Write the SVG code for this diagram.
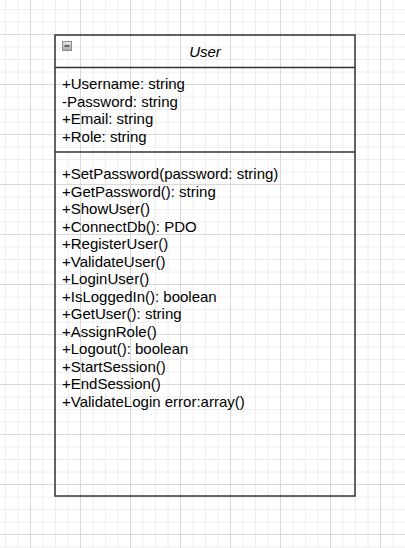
<svg xmlns="http://www.w3.org/2000/svg" width="405" height="548" viewBox="0 0 405 548">
  <style>
    .frame { fill: none; stroke: #333333; stroke-width: 1.5; }
    .divider { stroke: #333333; stroke-width: 1.5; }
    .member { font-family: "Liberation Sans", Arial, sans-serif; font-size: 15px; fill: #000000; }
    .title { font-family: "Liberation Sans", Arial, sans-serif; font-size: 15px; font-style: italic; fill: #000000; }
  </style>
  <defs>
    <!-- 12.5px minor grid with a stronger line every 50px -->
    <pattern id="grid" x="30" y="34" width="50" height="50" patternUnits="userSpaceOnUse">
      <path d="M13 0V50M25.5 0V50M38 0V50M0 13H50M0 25.5H50M0 38H50" stroke="#eeeeee" stroke-width="1" fill="none"/>
      <path d="M0.5 0V50M0 0.5H50" stroke="#d9d9d9" stroke-width="1" fill="none"/>
    </pattern>
    <linearGradient id="btnFill" x1="0" y1="0" x2="0" y2="1">
      <stop offset="0" stop-color="#e6e6e6"/>
      <stop offset="1" stop-color="#a8a8a8"/>
    </linearGradient>
  </defs>

  <rect width="405" height="548" fill="#ffffff"/>
  <rect width="405" height="548" fill="url(#grid)"/>

  <g id="connectors"/>

  <g id="user">
    <rect class="frame" x="55" y="35" width="300" height="461"/>
    <line class="divider" x1="55" y1="67.5" x2="355" y2="67.5"/>
    <line class="divider" x1="55" y1="152" x2="355" y2="152"/>

    <!-- collapse button -->
    <rect x="62.5" y="41.5" width="9" height="9" fill="url(#btnFill)" stroke="#8c8c8c" stroke-width="1"/>
    <line x1="64.5" y1="46" x2="69.5" y2="46" stroke="#404040" stroke-width="1.5"/>

    <text class="title" x="205" y="56.7" text-anchor="middle">User</text>

    <text class="member" x="62" y="89">+Username: string</text>
    <text class="member" x="62" y="106.5">-Password: string</text>
    <text class="member" x="62" y="124">+Email: string</text>
    <text class="member" x="62" y="141.5">+Role: string</text>

    <text class="member" x="62" y="179.3">+SetPassword(password: string)</text>
    <text class="member" x="62" y="196.8">+GetPassword(): string</text>
    <text class="member" x="62" y="214.3">+ShowUser()</text>
    <text class="member" x="62" y="231.8">+ConnectDb(): PDO</text>
    <text class="member" x="62" y="249.3">+RegisterUser()</text>
    <text class="member" x="62" y="266.8">+ValidateUser()</text>
    <text class="member" x="62" y="284.3">+LoginUser()</text>
    <text class="member" x="62" y="301.8">+IsLoggedIn(): boolean</text>
    <text class="member" x="62" y="319.3">+GetUser(): string</text>
    <text class="member" x="62" y="336.8">+AssignRole()</text>
    <text class="member" x="62" y="354.3">+Logout(): boolean</text>
    <text class="member" x="62" y="371.8">+StartSession()</text>
    <text class="member" x="62" y="389.3">+EndSession()</text>
    <text class="member" x="62" y="406.8">+ValidateLogin error:array()</text>
  </g>
</svg>
